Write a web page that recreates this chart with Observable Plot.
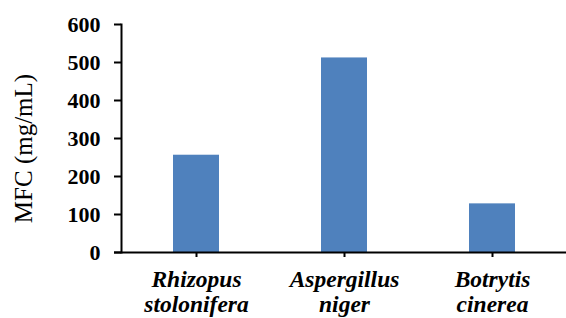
<!DOCTYPE html>
<html>
<head>
<meta charset="utf-8">
<script src="https://cdn.jsdelivr.net/npm/d3@7"></script>
<script src="https://cdn.jsdelivr.net/npm/@observablehq/plot@0.6"></script>
<style>
  html, body { margin: 0; padding: 0; background: #ffffff; }
  #chart { width: 566px; height: 318px; }
  #chart svg text { font-family: "Liberation Serif", "Times New Roman", serif; }
</style>
</head>
<body>
<div id="chart"></div>
<script>
const species = ["Rhizopus stolonifera", "Aspergillus niger", "Botrytis cinerea"];
const speciesLabels = ["Rhizopus\nstolonifera", "Aspergillus\nniger", "Botrytis\ncinerea"];
const mfcValues = [256, 512, 128];
const yTicks = [0, 100, 200, 300, 400, 500, 600];
const yLabel = "MFC (mg/mL)";

const data = species.map((s, i) => ({species: s, mfc: mfcValues[i]}));
const labelOf = new Map(species.map((s, i) => [s, speciesLabels[i]]));
const serif = "Liberation Serif";

const chart = Plot.plot({
  width: 566,
  height: 318,
  marginLeft: 121,
  marginRight: 0,
  marginTop: 24,
  marginBottom: 66,
  style: {fontFamily: serif, background: "#ffffff", color: "#000000"},
  x: {domain: species, padding: 0, label: null},
  y: {domain: [0, 600], label: null},
  marks: [
    Plot.barY(data, {x: "species", y: "mfc", fill: "#4F81BD", insetLeft: 51, insetRight: 51}),
    Plot.ruleY([0], {stroke: "#000", strokeWidth: 2, insetLeft: -7}),
    Plot.frame({anchor: "left", stroke: "#000", strokeWidth: 2}),
    Plot.axisY({ticks: yTicks, tickSize: 7, tickPadding: 14, fontSize: 22, fontFamily: serif, fontWeight: "bold", strokeWidth: 2, label: null}),
    Plot.axisX({tickSize: 5, tickPadding: 12, strokeWidth: 2, tickFormat: d => labelOf.get(d), fontSize: 23.5, fontFamily: serif, fontWeight: "bold", fontStyle: "italic", lineHeight: 1.06, label: null}),
    Plot.text([yLabel], {frameAnchor: "left", textAnchor: "middle", rotate: -90, dx: -98, dy: 10, fontSize: 25, fontFamily: serif, fontWeight: "normal", fill: "#000"})
  ]
});
document.getElementById("chart").appendChild(chart);
</script>
</body>
</html>
